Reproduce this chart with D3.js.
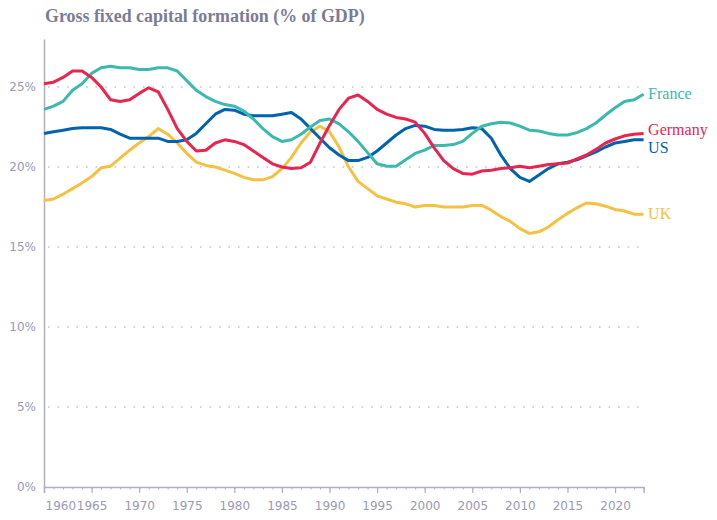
<!DOCTYPE html>
<html>
<head>
<meta charset="utf-8">
<script src="https://cdn.jsdelivr.net/npm/d3@7"></script>
<style>
  body { margin: 0; background: #fff; }
  svg { display: block; }
</style>
</head>
<body>
<svg id="chart" width="717" height="520"></svg>
<script>
const years = d3.range(1960, 2024);
const france = [23.6,23.8,24.1,24.8,25.2,25.85,26.2,26.3,26.2,26.2,26.1,26.1,26.2,26.2,26.0,25.4,24.8,24.4,24.1,23.9,23.8,23.5,23.0,22.4,21.9,21.6,21.7,22.05,22.5,22.9,23.0,22.7,22.2,21.6,20.9,20.2,20.05,20.05,20.45,20.85,21.05,21.35,21.35,21.4,21.6,22.1,22.55,22.7,22.8,22.75,22.55,22.3,22.25,22.1,22.0,22.0,22.15,22.4,22.75,23.25,23.7,24.1,24.2,24.55];
const germany = [25.2,25.3,25.6,26.0,26.0,25.6,25.0,24.2,24.1,24.2,24.6,24.95,24.7,23.6,22.4,21.6,21.0,21.05,21.5,21.7,21.6,21.4,21.0,20.6,20.2,20.0,19.9,19.95,20.3,21.5,22.6,23.6,24.3,24.5,24.1,23.6,23.3,23.1,23.0,22.8,22.1,21.2,20.4,19.9,19.6,19.55,19.75,19.8,19.9,19.95,20.05,19.95,20.05,20.15,20.2,20.25,20.5,20.75,21.1,21.5,21.75,21.95,22.05,22.1];
const us = [22.1,22.2,22.3,22.4,22.45,22.45,22.45,22.35,22.05,21.8,21.8,21.8,21.8,21.6,21.6,21.7,22.1,22.7,23.3,23.6,23.55,23.3,23.2,23.2,23.2,23.3,23.4,23.0,22.4,21.8,21.2,20.75,20.4,20.4,20.6,21.0,21.5,22.0,22.4,22.6,22.55,22.35,22.3,22.3,22.35,22.45,22.4,21.8,20.75,19.9,19.35,19.1,19.5,19.9,20.2,20.3,20.45,20.7,20.95,21.25,21.5,21.6,21.7,21.7];
const uk = [17.9,18.0,18.3,18.65,19.0,19.4,19.95,20.05,20.55,21.05,21.5,21.9,22.4,22.05,21.5,20.85,20.3,20.1,20.0,19.8,19.6,19.35,19.2,19.2,19.4,19.9,20.6,21.5,22.2,22.55,22.2,21.25,20.0,19.1,18.65,18.2,18.0,17.8,17.7,17.5,17.6,17.6,17.5,17.5,17.5,17.6,17.6,17.3,16.9,16.6,16.15,15.85,15.95,16.25,16.7,17.1,17.45,17.75,17.7,17.55,17.35,17.25,17.05,17.05];
const seriesNames = ["France", "Germany", "US", "UK"];
const seriesValues = [france, germany, us, uk];
const seriesColors = ["#3cb9ad", "#e8254e", "#0063b0", "#f5c143"];
const yTicks = [0, 5, 10, 15, 20, 25];
const xTicks = d3.range(1960, 2021, 5);
const title = "Gross fixed capital formation (% of GDP)";

const svg = d3.select("#chart");
const margin = {left: 44, right: 73.4, top: 39, bottom: 33};
const W = 717, H = 520;
const x = d3.scaleLinear().domain([1960, 2023]).range([margin.left, W - margin.right]);
const y = d3.scaleLinear().domain([0, 28]).range([H - margin.bottom, margin.top]);

const axisColor = "#aeaec4";
const textColor = "#9a9ab2";

// title
svg.append("text")
  .attr("x", 45).attr("y", 22)
  .attr("font-family", "'Liberation Serif', 'Times New Roman', serif")
  .attr("font-weight", "bold")
  .attr("font-size", 17.9)
  .attr("fill", "#7b7c94")
  .text(title);

// grid
svg.append("g").selectAll("line")
  .data(yTicks.filter(d => d > 0))
  .join("line")
  .attr("x1", x(1960) + 4).attr("x2", x(2023) - 3)
  .attr("y1", d => y(d)).attr("y2", d => y(d))
  .attr("stroke", "#c4c4cc")
  .attr("stroke-width", 1.6)
  .attr("stroke-dasharray", "1.6,7.9");

// y axis
const yAxis = svg.append("g")
  .attr("transform", `translate(${margin.left},0)`)
  .call(d3.axisLeft(y).tickValues(yTicks).tickSize(0).tickPadding(8).tickFormat(d => d + "%"));
yAxis.select(".domain").attr("stroke", axisColor).attr("stroke-width", 1.5);
yAxis.selectAll("text").attr("font-family", "'DejaVu Sans', sans-serif").attr("font-size", 12).attr("fill", textColor);

// x axis minor ticks
const xMinor = svg.append("g")
  .attr("transform", `translate(0,${y(0)})`)
  .call(d3.axisBottom(x).tickValues(d3.range(1960, 2024)).tickSize(2.5).tickFormat(""));
xMinor.select(".domain").remove();
xMinor.selectAll("line").attr("stroke", axisColor);

// x axis
const xAxis = svg.append("g")
  .attr("transform", `translate(0,${y(0)})`)
  .call(d3.axisBottom(x).tickValues(xTicks).tickSize(6).tickPadding(8).tickFormat(d3.format("d")));
xAxis.select(".domain").attr("stroke", axisColor).attr("stroke-width", 1.5);
xAxis.selectAll("line").attr("stroke", axisColor).attr("stroke-width", 1.2);
xAxis.selectAll("text").attr("font-family", "'DejaVu Sans', sans-serif").attr("font-size", 12).attr("fill", textColor);
xAxis.selectAll(".tick").filter(d => d === 1960).select("text").attr("text-anchor", "start").attr("x", 1);

// lines
const line = d3.line().x((d, i) => x(years[i])).y(d => y(d));
const order = [3, 2, 0, 1];
svg.append("g").selectAll("path")
  .data(order)
  .join("path")
  .attr("d", k => line(seriesValues[k]))
  .attr("fill", "none")
  .attr("stroke", k => seriesColors[k])
  .attr("stroke-width", 3)
  .attr("stroke-linejoin", "round");

// end labels with simple collision avoidance
const minGap = 18;
const labels = seriesNames.map((n, k) => ({name: n, color: seriesColors[k], y: y(seriesValues[k][seriesValues[k].length - 1])}));
labels.sort((a, b) => a.y - b.y);
for (let i = 1; i < labels.length; i++) {
  const gap = labels[i].y - labels[i - 1].y;
  if (gap < minGap) {
    const need = minGap - gap;
    labels[i - 1].y -= need * 0.3;
    labels[i].y += need * 0.7;
  }
}
svg.append("g").selectAll("text")
  .data(labels)
  .join("text")
  .attr("x", x(2023) + 4.5)
  .attr("y", d => d.y)
  .attr("dy", "0.3em")
  .attr("font-family", "'Liberation Serif', 'Times New Roman', serif")
  .attr("font-size", 16)
  .attr("fill", d => d.color)
  .text(d => d.name);
</script>
</body>
</html>
